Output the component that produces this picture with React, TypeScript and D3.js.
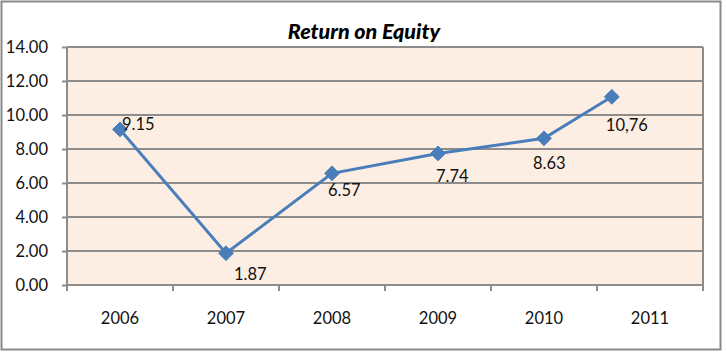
import React, { useEffect, useRef } from 'react';
import * as d3 from 'd3';

const years = ['2006', '2007', '2008', '2009', '2010', '2011'];
// x position of each point, in years (the last point sits left of its band in the source)
const pointYears = [2006, 2007, 2008, 2009, 2010, 2010.64];
const roe = [9.15, 1.87, 6.57, 7.74, 8.63, 11.07];
const labels = ['9.15', '1.87', '6.57', '7.74', '8.63', '10,76'];
const yTicks = [0, 2, 4, 6, 8, 10, 12, 14];

// label nudges relative to the marker [dx, dy of baseline]
const labelOffsets = [[2, 1], [8, 27], [-4, 23], [-2, 29], [-11, 31], [-6, 34]];

const FONT = 'Lato, "Open Sans", sans-serif';

const App = () => {
  const ref = useRef<SVGSVGElement | null>(null);

  useEffect(() => {
    const svg = d3.select(ref.current);
    svg.selectAll('*').remove();

    const W = 727;
    const H = 352;
    const plot = { left: 67, top: 47, right: 703, bottom: 285 };

    svg.attr('width', W).attr('height', H);

    // outer chart frame
    svg.append('rect')
      .attr('x', 1.5).attr('y', 1.5)
      .attr('width', 719).attr('height', 348)
      .attr('fill', '#fff')
      .attr('stroke', '#8a8a8a')
      .attr('stroke-width', 2);

    const xBand = d3.scaleBand().domain(years).range([plot.left, plot.right]);
    const x = d3.scaleLinear().domain([2005.5, 2011.5]).range([plot.left, plot.right]);
    const y = d3.scaleLinear().domain([0, 14]).range([plot.bottom, plot.top]);

    svg.append('rect')
      .attr('x', plot.left).attr('y', plot.top)
      .attr('width', plot.right - plot.left)
      .attr('height', plot.bottom - plot.top)
      .attr('fill', '#fdeee3');

    // gridlines
    svg.append('g')
      .selectAll('line')
      .data(yTicks)
      .enter().append('line')
      .attr('x1', plot.left).attr('x2', plot.right)
      .attr('y1', d => y(d)).attr('y2', d => y(d))
      .attr('stroke', '#8c8c8c')
      .attr('stroke-width', 2);

    // plot frame sides
    svg.append('line')
      .attr('x1', plot.left).attr('x2', plot.left)
      .attr('y1', plot.top).attr('y2', plot.bottom)
      .attr('stroke', '#8c8c8c').attr('stroke-width', 2);
    svg.append('line')
      .attr('x1', plot.right).attr('x2', plot.right)
      .attr('y1', plot.top).attr('y2', plot.bottom)
      .attr('stroke', '#8c8c8c').attr('stroke-width', 2);

    // y axis
    const yAxis = svg.append('g')
      .attr('transform', `translate(${plot.left},0)`)
      .call(d3.axisLeft(y).tickValues(yTicks).tickFormat(d3.format('.2f')).tickSize(5).tickPadding(14));
    yAxis.select('.domain').remove();
    yAxis.selectAll('line').attr('stroke', '#8c8c8c').attr('stroke-width', 2);
    yAxis.selectAll('text')
      .attr('font-family', FONT).attr('font-size', 16.5).attr('fill', '#111');

    // x axis
    const xAxis = svg.append('g')
      .attr('transform', `translate(0,${plot.bottom})`)
      .call(d3.axisBottom(xBand).tickSize(0).tickPadding(27));
    xAxis.select('.domain').remove();
    xAxis.selectAll('text')
      .attr('font-family', FONT).attr('font-size', 16.5).attr('fill', '#111');

    const bounds = [...years.map(d => xBand(d) as number), plot.right];
    svg.append('g')
      .selectAll('line')
      .data(bounds)
      .enter().append('line')
      .attr('x1', d => d).attr('x2', d => d)
      .attr('y1', plot.bottom).attr('y2', plot.bottom + 6)
      .attr('stroke', '#8c8c8c').attr('stroke-width', 2);

    const pts = roe.map((v, i) => [x(pointYears[i]), y(v)] as [number, number]);

    svg.append('path')
      .datum(pts)
      .attr('d', d3.line())
      .attr('fill', 'none')
      .attr('stroke', '#4a7ebb')
      .attr('stroke-width', 3);

    const diamond = d3.symbol().type(d3.symbolDiamond2).size(140);
    svg.append('g')
      .selectAll('path')
      .data(pts)
      .enter().append('path')
      .attr('d', diamond)
      .attr('transform', d => `translate(${d[0]},${d[1]})`)
      .attr('fill', '#4a7ebb')
      .attr('stroke', '#4a7ebb')
      .attr('stroke-width', 1);

    svg.append('g')
      .selectAll('text')
      .data(pts)
      .enter().append('text')
      .attr('x', (d, i) => d[0] + labelOffsets[i][0])
      .attr('y', (d, i) => d[1] + labelOffsets[i][1])
      .attr('font-family', FONT)
      .attr('font-size', 16.5)
      .attr('fill', '#111')
      .text((d, i) => labels[i]);

    svg.append('text')
      .attr('x', 364).attr('y', 39)
      .attr('text-anchor', 'middle')
      .attr('font-family', FONT)
      .attr('font-size', 21.5)
      .attr('font-weight', 900)
      .attr('font-style', 'italic')
      .attr('fill', '#000')
      .text('Return on Equity');
  }, []);

  return (
    <svg ref={ref} style={{ position: 'absolute', left: 0, top: 0 }}></svg>
  );
};

export default App;
